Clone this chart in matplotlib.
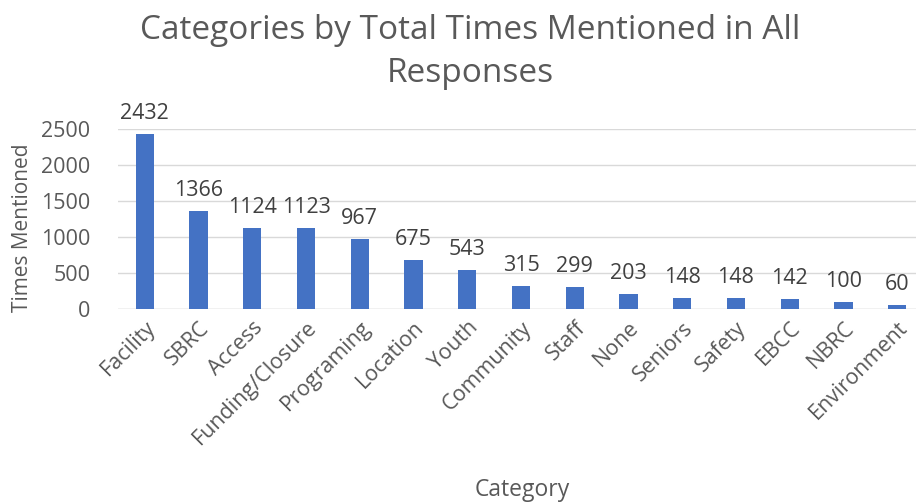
import matplotlib
matplotlib.use("Agg")
import matplotlib.pyplot as plt
import numpy as np

categories = ["Facility", "SBRC", "Access", "Funding/Closure", "Programing",
              "Location", "Youth", "Community", "Staff", "None", "Seniors",
              "Safety", "EBCC", "NBRC", "Environment"]
mentions = [2432, 1366, 1124, 1123, 967, 675, 543, 315, 299, 203, 148,
            148, 142, 100, 60]
y_ticks = [0, 500, 1000, 1500, 2000, 2500]

plt.rcParams['font.family'] = ['Open Sans', 'DejaVu Sans']

fig = plt.figure(figsize=(9.16, 5.04), dpi=100)
ax = fig.add_axes([118 / 916, 195 / 504, 798 / 916, 180 / 504])

x = np.arange(len(categories))
ax.bar(x, mentions, width=0.34, color="#4472C4", zorder=3)

for xi, v in zip(x, mentions):
    ax.text(xi, v + 140, str(v), ha="center", va="bottom",
            fontsize=15.5, color="#404040")

ax.set_xlim(-0.5, 14.35)
ax.set_ylim(0, 2500)
ax.set_yticks(y_ticks)
ax.yaxis.grid(True, color="#D9D9D9", linewidth=1, zorder=0)
ax.set_axisbelow(True)
for s in ax.spines.values():
    s.set_visible(False)
ax.axhline(0, color="#D9D9D9", linewidth=1, zorder=2)
ax.tick_params(axis="both", length=0, labelsize=15.5, labelcolor="#595959")
ax.tick_params(axis="y", pad=20)
ax.tick_params(axis="x", pad=6)
ax.set_xticks(x)
ax.set_xticklabels(categories, rotation=45, ha="right", rotation_mode="anchor")

ax.set_ylabel("Times Mentioned", fontsize=15, color="#595959", va="center")
ax.yaxis.set_label_coords(-0.12, 0.45)
fig.text(522 / 916, 1 - 490 / 504, "Category", ha="center", va="center",
         fontsize=16.5, color="#595959")
fig.text(470 / 916, 1 - 52 / 504,
         "Categories by Total Times Mentioned in All\nResponses",
         ha="center", va="center", fontsize=24, color="#595959",
         linespacing=1.4)

fig.savefig("out.png", dpi=100)
